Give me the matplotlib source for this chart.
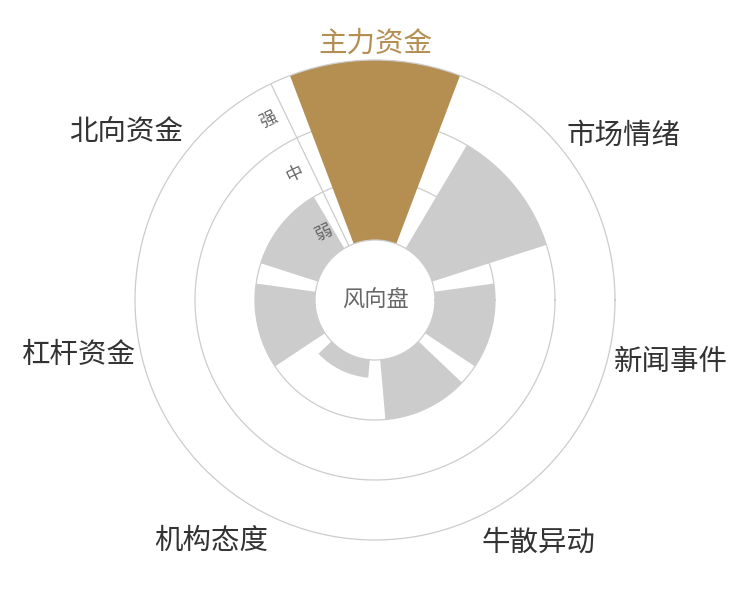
import numpy as np
import matplotlib
matplotlib.use("Agg")
import matplotlib.pyplot as plt

plt.rcParams['font.family'] = ['Noto Sans CJK SC', 'DejaVu Sans']

categories = ['主力资金', '市场情绪', '新闻事件', '牛散异动', '机构态度', '杠杆资金', '北向资金']
values = [3, 2, 1, 1, 0.3, 1, 1]
levels = ['弱', '中', '强']
center_text = '风向盘'
highlight = '主力资金'

GOLD = '#b58f52'
BAR_GRAY = '#cccccc'
LINE = '#cccccc'

n = len(categories)
step = 2 * np.pi / n
# clockwise from the top
theta = np.pi / 2 - np.arange(n) * step
colors = [GOLD if c == highlight else BAR_GRAY for c in categories]

# vertical nudge of each category label, in pixels (up is positive)
label_dy = [11, 11, -7, -22, -20, 0, 15]

fig = plt.figure(figsize=(7.5, 6), dpi=100)
ax = fig.add_axes([0.18, 0.1, 0.64, 0.8], projection='polar')
ax.set_ylim(0, 3)
ax.set_rorigin(-1)
ax.grid(False)
ax.set_xticks([])
ax.set_yticks([])
ax.spines['polar'].set_color(LINE)
ax.spines['polar'].set_linewidth(0.9)
ax.spines['inner'].set_color(LINE)
ax.spines['inner'].set_linewidth(0.9)

# ring lines behind the bars
full = np.linspace(0, 2 * np.pi, 400)
for r in [1, 2]:
    ax.plot(full, np.full_like(full, r), color=LINE, lw=0.9, zorder=0.5)

# radius axis line, on the boundary between first and last slot
axis_ang = np.pi / 2 + step / 2
ax.plot([axis_ang, axis_ang], [0, 3], color=LINE, lw=0.9, zorder=0.5)

ax.bar(theta, values, width=np.radians(41.5), bottom=0, color=colors,
       edgecolor='none', zorder=2)

# level labels next to the radius axis
for i, lab in enumerate(levels):
    rv = i + 0.5 if i > 0 else 0.42
    rpx = 60 + 60 * rv
    ang = axis_ang + np.arctan(18 / rpx)
    ax.text(ang, rv, lab, ha='center', va='center', fontsize=12.5,
            color='#666666', rotation=np.degrees(axis_ang) - 90, zorder=3)

# category labels
lab_r = 3 + 5 / 60
for t, c, dy in zip(theta, categories, label_dy):
    cx = np.cos(t)
    ha = 'center' if abs(cx) < 0.2 else ('left' if cx > 0 else 'right')
    ax.annotate(c, xy=(t, lab_r), xytext=(0, dy * 0.72),
                textcoords='offset points', ha=ha, va='center', fontsize=20.5,
                color=GOLD if c == highlight else '#333333',
                annotation_clip=False)

ax.text(0, -1, center_text, ha='center', va='center', fontsize=16,
        color='#666666')

fig.savefig('out.png', dpi=100, facecolor='white')
